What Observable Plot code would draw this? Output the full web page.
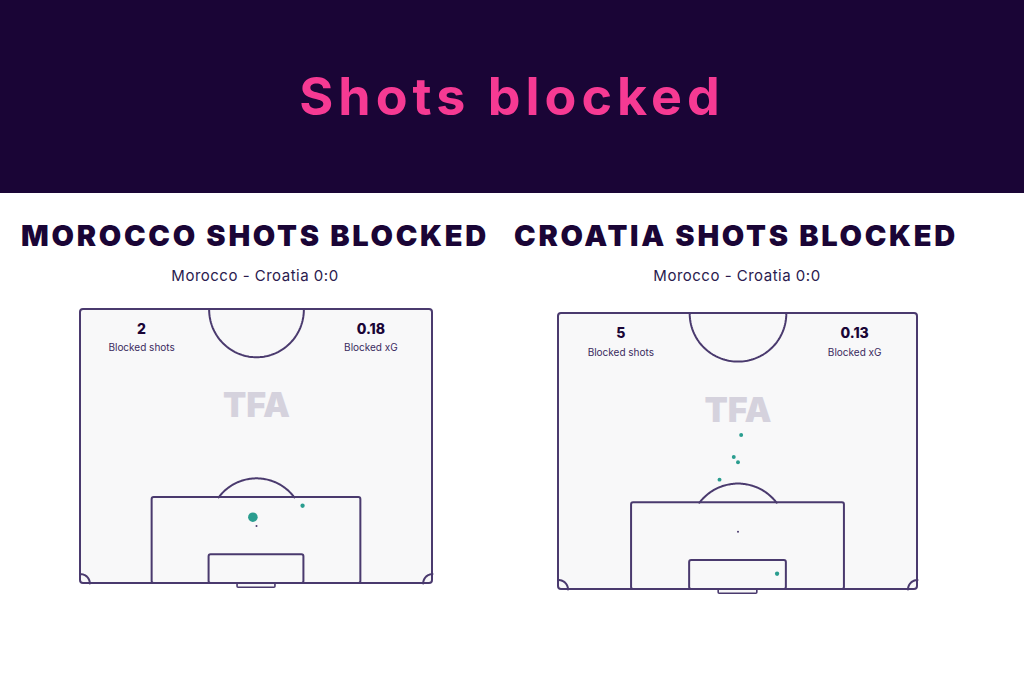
<!DOCTYPE html>
<html>
<head>
<meta charset="utf-8">
<script src="https://cdn.jsdelivr.net/npm/d3@7"></script>
<script src="https://cdn.jsdelivr.net/npm/@observablehq/plot@0.6"></script>
<style>
  html, body { margin: 0; padding: 0; background: #ffffff; }
  body { width: 1024px; height: 683px; position: relative; overflow: hidden; font-family: Inter, "Noto Sans", sans-serif; }
  #header { position: absolute; left: 0; top: 0; width: 1024px; height: 193px; background: #1a0536; }
  #title { position: absolute; left: 0; width: 1024px; top: 67px; text-align: center; color: #f63a93; font-family: Inter, sans-serif; font-weight: 700; font-size: 52px; letter-spacing: 5px; line-height: 60px; }
  .ptitle { position: absolute; top: 218px; text-align: center; color: #1a0536; font-family: Inter, sans-serif; font-weight: 900; font-size: 29px; letter-spacing: 2.7px; line-height: 36px; white-space: nowrap; }
  .psub { position: absolute; top: 266px; text-align: center; color: #2a1a4e; font-family: Inter, sans-serif; font-size: 15px; letter-spacing: 0.5px; line-height: 20px; white-space: nowrap; }
  .pitch { position: absolute; }
</style>
</head>
<body>
<div id="header"><div id="title">Shots blocked</div></div>
<div class="ptitle" style="left:10px;width:490px;">MOROCCO SHOTS BLOCKED</div>
<div class="ptitle" style="left:490px;width:492px;">CROATIA SHOTS BLOCKED</div>
<div class="psub" style="left:55px;width:400px;">Morocco - Croatia 0:0</div>
<div class="psub" style="left:537px;width:400px;">Morocco - Croatia 0:0</div>
<div id="left" class="pitch" style="left:70px;top:295px;"></div>
<div id="right" class="pitch" style="left:548px;top:298px;"></div>
<script>
// ---- data ----
const teams = ["Morocco", "Croatia"];
const blockedShots = ["2", "5"];
const blockedXG = ["0.18", "0.13"];
const statLabels = ["Blocked shots", "Blocked xG"];
const watermark = "TFA";
// shot locations: x across pitch (m, 0-68), y = distance from goal line (m)
const moroccoShotX = [33.3, 42.9];
const moroccoShotY = [12.7, 14.9];
const moroccoShotXG = [0.15, 0.03];
const croatiaShotX = [34.6, 33.2, 34.0, 30.5, 41.4];
const croatiaShotY = [29.4, 25.2, 24.2, 20.9, 3.0];
const croatiaShotXG = [0.025, 0.025, 0.025, 0.025, 0.03];

// ---- pitch geometry (metres) ----
const W = 68, L = 52.5;
const LINE = "#4a3a6e";
const TEAL = "#2a9d8f";
function arc(cx, cy, r, a0, a1, n = 80) {
  const pts = [];
  for (let i = 0; i <= n; i++) {
    const a = a0 + (a1 - a0) * i / n;
    pts.push({x: cx + r * Math.cos(a), y: cy + r * Math.sin(a)});
  }
  return pts;
}
const centerArc = arc(W / 2, L, 9.15, Math.PI, 2 * Math.PI);
const penA = Math.asin((16.5 - 11) / 9.15);
const penArc = arc(W / 2, 11, 9.15, penA, Math.PI - penA);
const cornerL = arc(0, 0, 1.8, 0, Math.PI / 2, 20);
const cornerR = arc(W, 0, 1.8, Math.PI / 2, Math.PI, 20);

function pitch(sel, opts, xs, ys, xg, shots, xgTotal) {
  const shotData = xs.map((x, i) => ({x, y: ys[i], xg: xg[i]}));
  const lineOpt = {x: "x", y: "y", stroke: LINE, strokeWidth: 2, curve: "linear"};
  const statsData = [
    {x: 11.8, v: shots, l: statLabels[0]},
    {x: 56.1, v: xgTotal, l: statLabels[1]}
  ];
  const chart = Plot.plot({
    width: opts.width, height: opts.height,
    marginLeft: opts.ml, marginRight: opts.mr, marginTop: opts.mt, marginBottom: opts.mb,
    x: {domain: [0, W], axis: null},
    y: {domain: [0, L], axis: null},
    r: {type: "sqrt", domain: [0, 0.15], range: [0, 4.8]},
    style: {background: "transparent", overflow: "visible"},
    marks: [
      Plot.rect([{x1: 0, x2: W, y1: 0, y2: L}], {x1: "x1", x2: "x2", y1: "y1", y2: "y2", fill: "#f8f8f9", stroke: LINE, strokeWidth: 2, rx: 3}),
      Plot.rect([{x1: W / 2 - 3.66, x2: W / 2 + 3.66, y1: -0.8, y2: 0}], {x1: "x1", x2: "x2", y1: "y1", y2: "y2", fill: "#f8f8f9", stroke: LINE, strokeWidth: 1.6, rx: 1}),
      Plot.rect([{x1: W / 2 - 20.16, x2: W / 2 + 20.16, y1: 0, y2: 16.5}], {x1: "x1", x2: "x2", y1: "y1", y2: "y2", fill: "none", stroke: LINE, strokeWidth: 2, rx: 2}),
      Plot.rect([{x1: W / 2 - 9.16, x2: W / 2 + 9.16, y1: 0, y2: 5.5}], {x1: "x1", x2: "x2", y1: "y1", y2: "y2", fill: "none", stroke: LINE, strokeWidth: 2, rx: 2}),
      Plot.line(centerArc, lineOpt),
      Plot.line(penArc, lineOpt),
      Plot.line(cornerL, lineOpt),
      Plot.line(cornerR, lineOpt),
      Plot.dot([{x: W / 2, y: 11}], {x: "x", y: "y", r: 1, fill: LINE}),
      Plot.text([watermark], {x: W / 2, y: 34, text: d => d, fill: "#d5d2dd", fontSize: 34, fontWeight: 900, fontFamily: "Inter, sans-serif", letterSpacing: 1}),
      Plot.text(statsData, {x: "x", y: 48.7, text: "v", fill: "#1a0536", fontSize: 14, fontWeight: 800, fontFamily: "Inter, sans-serif"}),
      Plot.text(statsData, {x: "x", y: 45.1, text: "l", fill: "#3a2a5e", fontSize: 10, fontFamily: "Inter, sans-serif"}),
      Plot.dot(shotData, {x: "x", y: "y", r: "xg", fill: TEAL, stroke: "none"})
    ]
  });
  document.getElementById(sel).appendChild(chart);
}

pitch("left", {width: 372, height: 300, ml: 10, mr: 10, mt: 14, mb: 12}, moroccoShotX, moroccoShotY, moroccoShotXG, blockedShots[0], blockedXG[0]);
pitch("right", {width: 379, height: 300, ml: 10, mr: 10, mt: 15, mb: 9}, croatiaShotX, croatiaShotY, croatiaShotXG, blockedShots[1], blockedXG[1]);
</script>
</body>
</html>
